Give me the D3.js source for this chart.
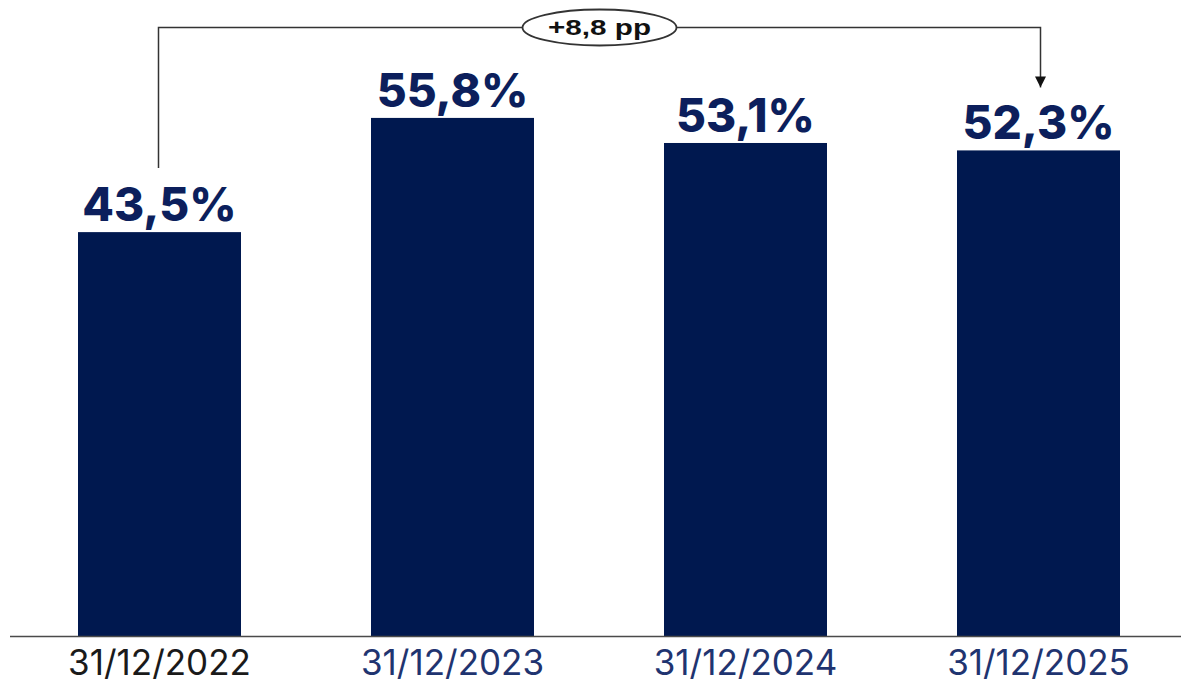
<!DOCTYPE html>
<html>
<head>
<meta charset="utf-8">
<script src="https://cdn.jsdelivr.net/npm/d3@7"></script>
<style>
  html, body { margin: 0; padding: 0; background: #fff; }
  svg { display: block; }
</style>
</head>
<body>
<svg id="chart" width="1181" height="684"></svg>
<script>
// Share at year end, in percent
const dates = ["31/12/2022", "31/12/2023", "31/12/2024", "31/12/2025"];
const shares = [43.5, 55.8, 53.1, 52.3];
const valueLabels = ["43,5%", "55,8%", "53,1%", "52,3%"];
const changeLabel = "+8,8 pp";

const W = 1181, H = 684;
const baseY = 636;
const svg = d3.select("#chart");

const x = d3.scaleBand()
  .domain(dates)
  .range([19.4, 1178.6])
  .paddingInner(0.4437)
  .paddingOuter(0.2);

const y = d3.scaleLinear()
  .domain([0, 68.5])
  .range([baseY, 0]);

const barColor = "#00184f";
const labelColor = "#0c1f5c";

// bars
svg.append("g").selectAll("rect")
  .data(dates)
  .join("rect")
  .attr("x", d => x(d))
  .attr("width", x.bandwidth())
  .attr("y", (d, i) => y(shares[i]))
  .attr("height", (d, i) => baseY - y(shares[i]))
  .attr("fill", barColor);

// value labels
svg.append("g").selectAll("text")
  .data(dates)
  .join("text")
  .attr("x", d => x(d) + x.bandwidth() / 2)
  .attr("y", (d, i) => y(shares[i]) - 11)
  .attr("text-anchor", "middle")
  .attr("font-family", "Inter, 'DejaVu Sans', sans-serif")
  .attr("font-weight", 800)
  .attr("font-size", 46)
  .attr("fill", labelColor)
  .text((d, i) => valueLabels[i]);

// category axis along the baseline
const axis = d3.axisBottom(x).tickSize(0).tickPadding(0);
const gx = svg.append("g").attr("transform", `translate(0,${baseY})`).call(axis);
gx.select(".domain").remove();
svg.append("line")
  .attr("x1", 10).attr("x2", W)
  .attr("y1", baseY + 0.5).attr("y2", baseY + 0.5)
  .attr("stroke", "#4a4a4a").attr("stroke-width", 1.5);
gx.selectAll(".tick text")
  .attr("dy", 0)
  .attr("y", 39)
  .attr("font-family", "Inter, 'Open Sans', sans-serif")
  .attr("font-weight", 400)
  .attr("font-size", 35)
  .attr("fill", (d, i) => i === 0 ? "#1a1a1a" : "#1f3470");

// change bracket from first to last bar
const x0 = x(dates[0]) + x.bandwidth() / 2 - 1;
const x1 = x(dates[dates.length - 1]) + x.bandwidth() / 2 + 2;
const topY = 27.5;
const startY = y(shares[0]) - 64;
const endY = y(shares[shares.length - 1]) - 63;

svg.append("defs").append("marker")
  .attr("id", "arrow")
  .attr("viewBox", "0 0 10 10")
  .attr("refX", 10).attr("refY", 5)
  .attr("markerWidth", 11).attr("markerHeight", 11)
  .attr("markerUnits", "userSpaceOnUse")
  .attr("orient", "auto")
  .append("path")
  .attr("d", "M0,0 L10,5 L0,10 Z")
  .attr("fill", "#111");

svg.append("path")
  .attr("d", `M${x0},${startY} V${topY} H${x1} V${endY}`)
  .attr("fill", "none")
  .attr("stroke", "#333")
  .attr("stroke-width", 1.5)
  .attr("marker-end", "url(#arrow)");

const cx = (x0 + x1) / 2;
svg.append("ellipse")
  .attr("cx", cx).attr("cy", topY)
  .attr("rx", 77).attr("ry", 18)
  .attr("fill", "#fff")
  .attr("stroke", "#333")
  .attr("stroke-width", 1.8);

svg.append("text")
  .attr("x", cx).attr("y", topY + 7.5)
  .attr("text-anchor", "middle")
  .attr("font-family", "'Liberation Sans', Arial, sans-serif")
  .attr("font-weight", 700)
  .attr("font-size", 22)
  .attr("textLength", 103)
  .attr("lengthAdjust", "spacingAndGlyphs")
  .attr("fill", "#111")
  .text(changeLabel);
</script>
</body>
</html>
